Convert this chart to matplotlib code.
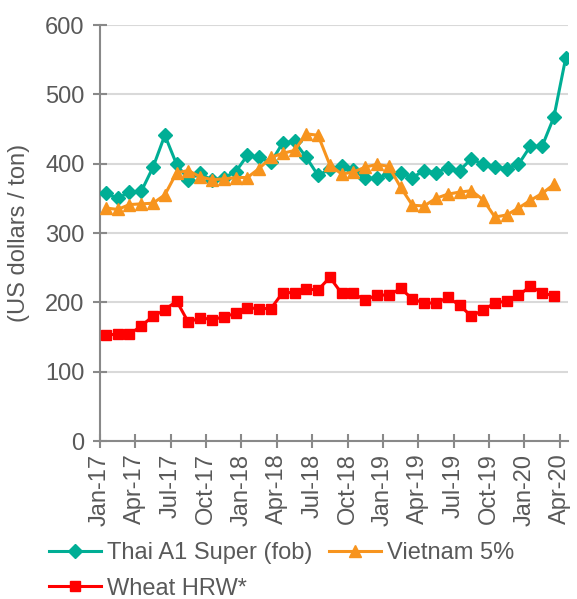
import matplotlib
matplotlib.use("Agg")
import matplotlib.pyplot as plt
import numpy as np

months = ["Jan", "Feb", "Mar", "Apr", "May", "Jun", "Jul", "Aug", "Sep", "Oct", "Nov", "Dec"]
dates = [f"{months[(i) % 12]}-{17 + i // 12}" for i in range(40)]  # Jan-17 .. Apr-20

thai = [357, 350, 359, 360, 395, 441, 399, 377, 386, 376, 380, 388,
        412, 409, 402, 430, 432, 409, 383, 392, 396, 391, 379, 379,
        385, 387, 380, 390, 387, 394, 390, 407, 399, 395, 393, 399,
        425, 425, 467, 552]
vietnam = [336, 334, 341, 342, 343, 355, 387, 390, 381, 377, 378, 380,
           380, 393, 409, 415, 419, 443, 441, 398, 385, 388, 395, 399,
           396, 366, 340, 339, 350, 356, 359, 361, 348, 323, 326, 336,
           347, 357, 370]
wheat = [153, 154, 154, 166, 180, 189, 202, 171, 178, 175, 179, 184,
         192, 191, 191, 214, 214, 219, 218, 236, 213, 213, 203, 211,
         210, 220, 205, 199, 199, 207, 196, 180, 189, 199, 202, 210,
         223, 214, 209]

tick_labels = dates[::3]
yticks = [0, 100, 200, 300, 400, 500, 600]

plt.rcParams['font.family'] = ['Liberation Sans', 'DejaVu Sans']
TXT = '#595959'
AX = '#898989'
FS = 17

fig = plt.figure(figsize=(5.77, 5.99), dpi=100)
ax = fig.add_axes([100/577, 1 - 441/599, 468/577, 416/599])

x_t = np.arange(len(thai)) + 0.5
x_v = np.arange(len(vietnam)) + 0.5
x_w = np.arange(len(wheat)) + 0.5

l1, = ax.plot(x_t, thai, color='#00AE95', lw=2.2, marker='D', ms=7.5, label='Thai A1 Super (fob)', zorder=3)
l2, = ax.plot(x_v, vietnam, color='#F7941E', lw=2.2, marker='^', ms=9, label='Vietnam 5%', zorder=3)
l3, = ax.plot(x_w, wheat, color='#FF0000', lw=2.2, marker='s', ms=6.5, label='Wheat HRW*', zorder=3)

ax.set_xlim(0, 39.7)
ax.set_ylim(0, 600)
ax.set_yticks(yticks)
ax.set_xticks(np.arange(0, 40, 3))
ax.set_xticklabels(tick_labels, rotation=90, fontsize=FS, color=TXT)
ax.set_yticklabels([str(v) for v in yticks], fontsize=FS, color=TXT)

ax.yaxis.grid(True, color='#D9D9D9', lw=1.5)
ax.set_axisbelow(True)
for s in ['top', 'right']:
    ax.spines[s].set_visible(False)
for s in ['left', 'bottom']:
    ax.spines[s].set_color(AX)
    ax.spines[s].set_linewidth(1.5)
ax.tick_params(axis='both', direction='inout', length=10, width=1.5, color=AX)
ax.tick_params(axis='y', pad=6)
ax.tick_params(axis='x', pad=4)

ax.set_ylabel('(US dollars / ton)', fontsize=FS, color=TXT)
ax.yaxis.set_label_coords(-0.15, 0.5)

leg = fig.legend([l1, l3, l2], ['Thai A1 Super (fob)', 'Wheat HRW*', 'Vietnam 5%'],
                 ncol=2, loc='upper left', bbox_to_anchor=(49/577, 1 - 542/599),
                 frameon=False, fontsize=FS, handlelength=2.2, handletextpad=0.25,
                 columnspacing=0.7, labelspacing=0.58, borderaxespad=0, borderpad=0)
for t in leg.get_texts():
    t.set_color(TXT)

fig.savefig('out.png', dpi=100)
